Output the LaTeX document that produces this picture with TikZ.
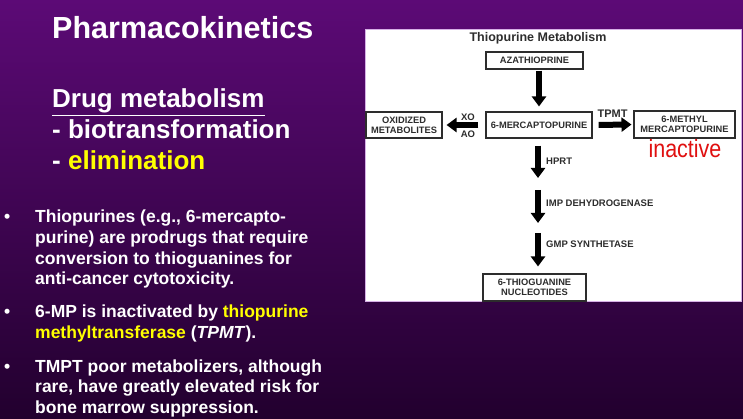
\documentclass[tikz,border=0pt]{standalone}
\usepackage{fontspec}
\setmainfont{Liberation Sans}
\usepackage{xcolor}
\usetikzlibrary{arrows.meta,positioning}

\definecolor{bgtop}{RGB}{92,10,118}
\definecolor{bgmid}{RGB}{138,0,168}
\definecolor{bgbot}{RGB}{34,0,46}
\definecolor{yel}{RGB}{255,255,0}
\definecolor{ink}{RGB}{45,45,45}
\definecolor{redtxt}{RGB}{224,16,16}
\definecolor{rim}{RGB}{214,176,230}

\begin{document}
\begin{tikzpicture}[
    x=1pt, y=-1pt,
    box/.style={rectangle, draw=ink, line width=1.1pt, align=center, text=ink, inner sep=2pt,
        font=\fontsize{9.3}{10.3}\selectfont\bfseries},
    fat/.style={line width=6pt, draw=black, -{Triangle[width=14pt,length=10pt]}},
    enz/.style={anchor=west, text=ink, inner sep=0pt, font=\fontsize{9.5}{10}\selectfont\bfseries},
    slide/.style={anchor=base west, text=white, inner sep=0pt, font=\fontsize{26}{30}\selectfont\bfseries},
    bullet/.style={anchor=base west, text=white, inner sep=0pt, align=left,
        font=\fontsize{17.5}{20.7}\selectfont\bfseries}
]
\useasboundingbox (0,0) rectangle (743,419);
\shade[top color=bgtop, middle color=bgmid, bottom color=bgbot] (0,0) rectangle (743,419);

% left side text
\node[slide, font=\fontsize{30.5}{32}\selectfont\bfseries] (head) at (52,39) {Pharmacokinetics};
\node[slide] (drug) at (52,108) {\underline{Drug metabolism}};
\node[slide] (bio) at (52,139) {- biotransformation};
\node[slide] (elim) at (52,170) {- \textcolor{yel}{elimination}};

% bullets (base = last line)
\node[bullet] (dot1) at (4,222.7) {•};
\node[bullet] (pro) at (35,284.8) {Thiopurines (e.g., 6-mercapto-\\purine) are prodrugs that require\\conversion to thioguanines for\\anti-cancer cytotoxicity.};
\node[bullet] (dot2) at (4,317) {•};
\node[bullet] (inact) at (35,338) {6-MP is inactivated by \textcolor{yel}{thiopurine}\\\textcolor{yel}{methyltransferase} (\textit{TPMT}).};
\node[bullet] (dot3) at (4,372) {•};
\node[bullet] (risk) at (35,413.4) {TMPT poor metabolizers, although\\rare, have greatly elevated risk for\\bone marrow suppression.};

% metabolism panel
\draw[rim, fill=white, line width=0.8pt] (365,29) rectangle (741,301);
\node[text=ink, font=\fontsize{12.5}{14}\selectfont\bfseries] (ttl) at (538,38) {Thiopurine Metabolism};

\node[box, minimum width=97pt, minimum height=17pt] (aza) at (534.5,60.5) {AZATHIOPRINE};
\node[box, minimum width=106pt, minimum height=26pt] (mp) at (539,125) {6-MERCAPTOPURINE};
\node[box, minimum width=76pt, minimum height=26pt] (oxi) at (404,125) {OXIDIZED\\METABOLITES};
\node[box, minimum width=101pt, minimum height=27pt] (mmp) at (684.5,124.5) {6-METHYL\\MERCAPTOPURINE};
\node[box, minimum width=103pt, minimum height=27pt] (tgn) at (534.5,287.5) {6-THIOGUANINE\\NUCLEOTIDES};

\node[text=redtxt, inner sep=0pt, font=\fontsize{25}{28}\selectfont] (inactive) at (685,149) {\scalebox{0.86}[1]{inactive}};

\coordinate (hp1) at (538,178);
\coordinate (hp2) at (538,190);
\coordinate (hp3) at (538,223);
\coordinate (hp4) at (538,233);

\draw[fat, shorten <=1pt, shorten >=5pt] (aza.south -| mp) -- (mp.north);
\draw[fat, shorten <=7pt, shorten >=4pt] (mp.west) -- (oxi.east);
\draw[fat, shorten <=6pt, shorten >=2pt] (mp.east) -- (mmp.west);
\draw[fat, shorten <=7pt] (mp.south -| hp1) -- (hp1);
\draw[fat] (hp2) -- (hp3);
\draw[fat, shorten >=7pt] (hp4) -- (tgn.north -| hp4);

\node[text=ink, inner sep=0pt, font=\fontsize{9.5}{10}\selectfont\bfseries] (xo) at (468,117) {XO};
\node[text=ink, inner sep=0pt, font=\fontsize{9.5}{10}\selectfont\bfseries] (ao) at (468,134.5) {AO};
\node[text=ink, inner sep=0pt, font=\fontsize{11}{12}\selectfont\bfseries] (tpmt) at (612.5,114) {TPMT};
\node[enz] (hprt) at (546,161) {HPRT};
\node[enz] (imp) at (546,203) {IMP DEHYDROGENASE};
\node[enz] (gmp) at (546,244) {GMP SYNTHETASE};
\end{tikzpicture}
\end{document}
